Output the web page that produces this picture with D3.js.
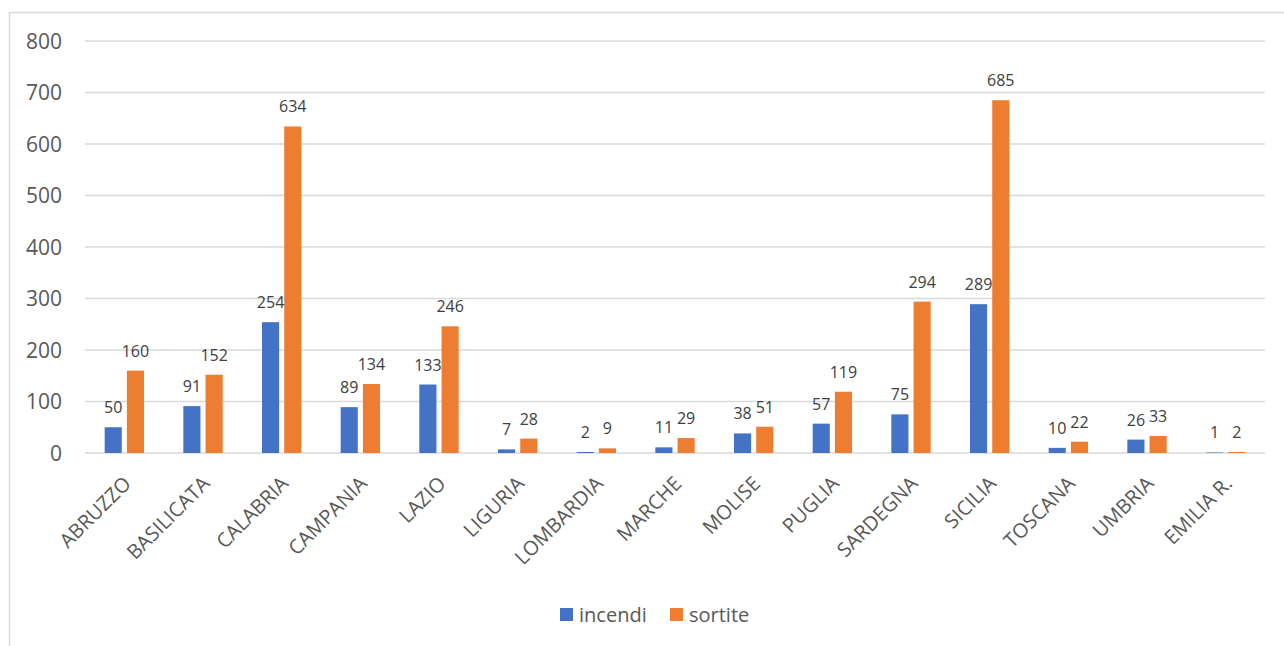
<!DOCTYPE html>
<html>
<head>
<meta charset="utf-8">
<script src="https://cdn.jsdelivr.net/npm/d3@7"></script>
<style>
  body { margin: 0; background: #fff; }
  svg { display: block; font-family: "Open Sans", "Noto Sans", sans-serif; }
</style>
</head>
<body>
<svg id="chart" width="1284" height="646"></svg>
<script>
// regions and the two series
var regions = ["ABRUZZO", "BASILICATA", "CALABRIA", "CAMPANIA", "LAZIO", "LIGURIA", "LOMBARDIA",
               "MARCHE", "MOLISE", "PUGLIA", "SARDEGNA", "SICILIA", "TOSCANA", "UMBRIA", "EMILIA R."];
var incendi = [50, 91, 254, 89, 133, 7, 2, 11, 38, 57, 75, 289, 10, 26, 1];
var sortite = [160, 152, 634, 134, 246, 28, 9, 29, 51, 119, 294, 685, 22, 33, 2];
var seriesNames = ["incendi", "sortite"];
var yTicks = [0, 100, 200, 300, 400, 500, 600, 700, 800];

var COLORS = { incendi: "#4472C4", sortite: "#ED7D31" };

var svg = d3.select("#chart");

// chart frame (only top and left edges show in the picture)
svg.append("rect")
    .attr("x", 9.5).attr("y", 12.5)
    .attr("width", 1400).attr("height", 800)
    .style("fill", "none")
    .style("stroke", "#d9d9d9")
    .style("stroke-width", 1.5);

var margin = {top: 41, left: 85},
    width = 1180,
    height = 412,
    g = svg.append("g").attr("transform", "translate(" + margin.left + "," + margin.top + ")");

var x0 = d3.scaleBand()
    .domain(regions)
    .range([0, width])
    .paddingInner(0.5)
    .paddingOuter(0.25);

var x1 = d3.scaleBand()
    .domain(seriesNames)
    .range([0, x0.bandwidth()])
    .paddingInner(0.23);

var y = d3.scaleLinear()
    .domain([0, 800])
    .range([height, 0]);

// gridlines
g.selectAll(".grid")
    .data(yTicks)
    .enter().append("line")
      .attr("class", "grid")
      .attr("x1", 0).attr("x2", width)
      .attr("y1", function(d) { return y(d); })
      .attr("y2", function(d) { return y(d); })
      .style("stroke", "#d9d9d9")
      .style("stroke-width", 1.5);

// y axis labels
g.selectAll(".ylab")
    .data(yTicks)
    .enter().append("text")
      .attr("class", "ylab")
      .attr("x", -23)
      .attr("y", function(d) { return y(d); })
      .attr("dy", "0.36em")
      .attr("text-anchor", "end")
      .style("font-size", "21px")
      .style("fill", "#595959")
      .text(function(d) { return d; });

var rows = regions.map(function(r, i) {
  return { region: r, values: [ {key: "incendi", value: incendi[i]}, {key: "sortite", value: sortite[i]} ] };
});

var group = g.selectAll(".region")
    .data(rows)
    .enter().append("g")
      .attr("class", "region")
      .attr("transform", function(d) { return "translate(" + x0(d.region) + ",0)"; });

group.selectAll("rect")
    .data(function(d) { return d.values; })
    .enter().append("rect")
      .attr("x", function(d) { return x1(d.key); })
      .attr("y", function(d) { return y(d.value); })
      .attr("width", x1.bandwidth())
      .attr("height", function(d) { return height - y(d.value); })
      .style("fill", function(d) { return COLORS[d.key]; });

// value labels
group.selectAll(".vlab")
    .data(function(d) { return d.values; })
    .enter().append("text")
      .attr("class", "vlab")
      .attr("x", function(d) { return x1(d.key) + x1.bandwidth() / 2; })
      .attr("y", function(d) { return y(d.value) - 14; })
      .attr("text-anchor", "middle")
      .style("font-size", "16px")
      .style("fill", "#404040")
      .text(function(d) { return d.value; });

// x labels, rotated
g.selectAll(".xlab")
    .data(regions)
    .enter().append("text")
      .attr("class", "xlab")
      .attr("transform", function(d) {
        return "translate(" + (x0(d) + x0.bandwidth() / 2 - 2) + "," + (height + 22) + ") rotate(-45)";
      })
      .attr("dy", "0.7em")
      .attr("text-anchor", "end")
      .style("font-size", "20px")
      .style("fill", "#595959")
      .text(function(d) { return d; });

// legend
var legend = svg.append("g").attr("transform", "translate(560,615)");
var legendX = [0, 110];
seriesNames.forEach(function(s, i) {
  legend.append("rect")
      .attr("x", legendX[i]).attr("y", -7)
      .attr("width", 13).attr("height", 13)
      .style("fill", COLORS[s]);
  legend.append("text")
      .attr("x", legendX[i] + 19).attr("y", 0)
      .attr("dy", "0.35em")
      .style("font-size", "20px")
      .style("fill", "#595959")
      .text(s);
});
</script>
</body>
</html>
